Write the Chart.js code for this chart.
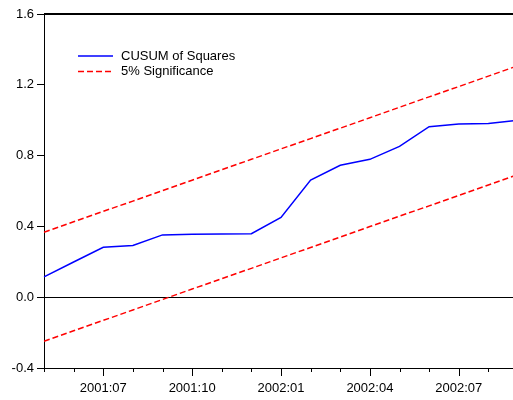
<!DOCTYPE html>
<html>
<head>
<meta charset="utf-8">
<script src="https://cdn.jsdelivr.net/npm/chart.js@4/dist/chart.umd.min.js"></script>
<style>
html,body{margin:0;padding:0;background:#fff;overflow:hidden;}
canvas{display:block;}
</style>
</head>
<body>
<canvas id="c" width="523" height="400"></canvas>
<script>
const months = ['2001:05','2001:06','2001:07','2001:08','2001:09','2001:10','2001:11','2001:12','2002:01','2002:02','2002:03','2002:04','2002:05','2002:06','2002:07','2002:08','2002:09'];
const tickLabels = ['2001:07','2001:10','2002:01','2002:04','2002:07'];
const cusumSq = [0.115,0.199,0.282,0.292,0.352,0.355,0.357,0.359,0.451,0.662,0.745,0.779,0.852,0.963,0.979,0.982,1.000];
const upperBand = [0.367,0.426,0.485,0.543,0.602,0.661,0.720,0.779,0.838,0.896,0.955,1.014,1.073,1.132,1.190,1.249,1.308];
const lowerBand = [-0.249,-0.190,-0.131,-0.072,-0.013,0.046,0.105,0.163,0.222,0.281,0.340,0.399,0.458,0.516,0.575,0.634,0.693];
const yTicks = [-0.4,0.0,0.4,0.8,1.2,1.6];

const FONT = '"Liberation Sans", Arial, sans-serif';

const framePlugin = {
  id: 'frame',
  afterDraw(chart) {
    const ctx = chart.ctx, a = chart.chartArea, xs = chart.scales.x;
    ctx.save();
    ctx.strokeStyle = '#000';
    ctx.lineWidth = 2;
    ctx.beginPath();
    ctx.moveTo(a.left, a.top); ctx.lineTo(a.right, a.top);
    ctx.moveTo(a.right, a.top); ctx.lineTo(a.right, a.bottom);
    ctx.stroke();
    ctx.lineWidth = 1;
    ctx.beginPath();
    months.forEach((m, i) => {
      const x = Math.round(xs.getPixelForValue(i)) + 0.5;
      const len = tickLabels.includes(m) ? 8 : 4;
      ctx.moveTo(x, a.bottom); ctx.lineTo(x, a.bottom + len);
    });
    ctx.stroke();
    // legend
    const items = [chart.data.datasets[0], chart.data.datasets[1]];
    ctx.font = '13px ' + FONT;
    ctx.textBaseline = 'middle';
    ctx.fillStyle = '#000';
    items.forEach((ds, k) => {
      const y = a.top + 42 + k * 15.5;
      ctx.strokeStyle = ds.borderColor;
      ctx.lineWidth = 1.5;
      ctx.setLineDash(ds.borderDash || []);
      ctx.beginPath();
      ctx.moveTo(a.left + 34, y); ctx.lineTo(a.left + 69, y);
      ctx.stroke();
      ctx.setLineDash([]);
      ctx.fillText(ds.label, a.left + 77, y);
    });
    ctx.restore();
  }
};

new Chart(document.getElementById('c'), {
  type: 'line',
  data: {
    labels: months,
    datasets: [
      { label: 'CUSUM of Squares', data: cusumSq, borderColor: '#0000FF', borderWidth: 1.5, pointRadius: 0, tension: 0, fill: false },
      { label: '5% Significance', data: upperBand, borderColor: '#FF0000', borderWidth: 1.5, borderDash: [6,3], pointRadius: 0, tension: 0, fill: false },
      { label: '5% Significance', data: lowerBand, borderColor: '#FF0000', borderWidth: 1.5, borderDash: [6,3], pointRadius: 0, tension: 0, fill: false }
    ]
  },
  options: {
    responsive: false,
    animation: false,
    devicePixelRatio: 1,
    layout: { padding: { top: 14, right: 4, left: 0, bottom: 0 } },
    plugins: { legend: { display: false }, tooltip: { enabled: false } },
    scales: {
      x: {
        type: 'category',
        offset: false,
        grid: { display: false },
        border: { display: true, color: '#000', width: 1 },
        ticks: {
          autoSkip: false, maxRotation: 0, padding: 5,
          color: '#000', font: { family: FONT, size: 13 },
          callback: function(v, i) { const m = months[i]; return tickLabels.includes(m) ? m : ''; }
        },
        afterFit(s) { s.height = 32; }
      },
      y: {
        min: -0.4, max: 1.6,
        afterBuildTicks(s) { s.ticks = yTicks.map(v => ({ value: v })); },
        grid: {
          drawOnChartArea: true, drawTicks: true, tickLength: 7,
          tickColor: '#000',
          color: c => (c.tick && Math.abs(c.tick.value) < 1e-9) ? '#000' : 'rgba(0,0,0,0)',
          lineWidth: 1
        },
        border: { display: true, color: '#000', width: 1 },
        ticks: {
          padding: 3, color: '#000', font: { family: FONT, size: 13 },
          callback: v => Number(v).toFixed(1)
        },
        afterFit(s) { s.width = 44; }
      }
    }
  },
  plugins: [framePlugin]
});
</script>
</body>
</html>
